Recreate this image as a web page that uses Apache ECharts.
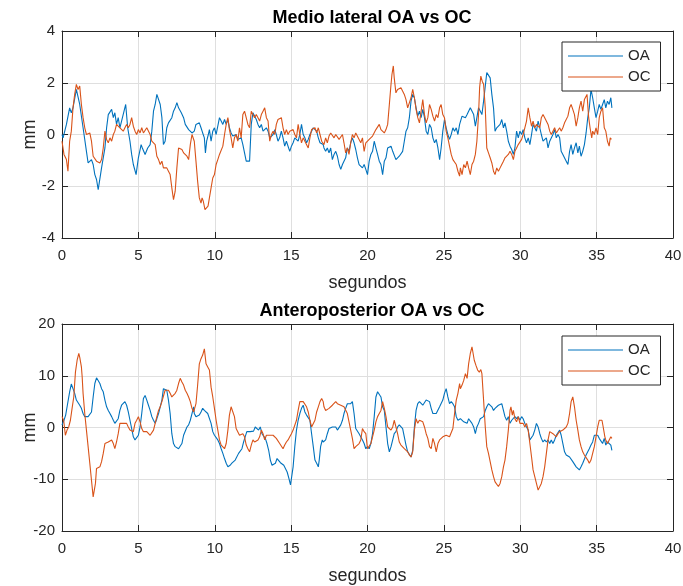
<!DOCTYPE html>
<html>
<head>
<meta charset="utf-8">
<script src="https://cdn.jsdelivr.net/npm/echarts@6/dist/echarts.min.js"></script>
<style>
  html, body { margin: 0; padding: 0; background: #ffffff; }
  #chart { width: 683px; height: 586px; }
</style>
</head>
<body>
<div id="chart"></div>
<script>
// Sway recordings, [time (s), displacement (mm)]
// Medio-lateral, eyes open (OA)
const mlOA = [[0,0],[0.07,-0.13],[0.29,0.39],[0.5,1.03],[0.61,0.84],[0.72,1.03],[0.94,1.74],[1.16,1.16],[1.38,0.26],[1.6,-0.65],[1.71,-1.1],[1.93,-0.97],[2.04,-1.16],[2.15,-1.55],[2.26,-1.74],[2.37,-2.13],[2.59,-1.29],[2.81,-0.52],[2.92,0.26],[3.03,0.77],[3.25,0.97],[3.36,0.65],[3.46,0.84],[3.57,0.39],[3.68,0.65],[3.79,0.26],[3.9,0.52],[4.01,0.45],[4.17,1.16],[4.3,0.26],[4.45,-0.26],[4.56,-0.77],[4.67,-1.16],[4.85,-1.55],[5,-0.9],[5.18,-0.39],[5.26,-0.52],[5.44,-0.77],[5.61,-0.52],[5.77,-0.39],[5.88,0.13],[5.99,0.9],[6.1,1.16],[6.21,1.55],[6.32,1.61],[6.43,1.16],[6.54,0.65],[6.64,-0.39],[6.75,-0.26],[6.86,0.26],[6.97,0.45],[7.08,0.52],[7.19,0.65],[7.3,0.9],[7.41,1.03],[7.52,1.23],[7.63,1.03],[7.81,0.84],[7.96,0.65],[8.07,0.39],[8.29,0.19],[8.51,0.06],[8.55,0],[8.66,0.13],[8.77,0.39],[8.88,0.32],[8.99,0.45],[9.1,0.26],[9.21,0.06],[9.32,-0.13],[9.39,-0.71],[9.47,-0.26],[9.58,0],[9.65,0.19],[9.76,-0.26],[9.87,0.13],[9.98,0.26],[10.09,0],[10.2,0],[10.31,0.65],[10.42,0.52],[10.53,0.39],[10.64,0.58],[10.75,0.39],[10.86,0.58],[10.96,0.26],[11.07,0.06],[11.18,-0.06],[11.29,-0.13],[11.4,0],[11.51,-0.19],[11.62,-0.26],[11.73,-0.13],[11.84,-0.39],[11.95,-0.71],[12.06,-1.03],[12.17,-1.1],[12.28,-1.03],[12.39,0.39],[12.5,0.84],[12.61,0.77],[12.72,0.58],[12.83,0.39],[12.94,0.26],[13.05,0.39],[13.16,0.13],[13.27,0.19],[13.38,0.26],[13.49,0.13],[13.6,-0.13],[13.71,-0.19],[13.82,0],[13.93,0.19],[14.03,0],[14.14,-0.26],[14.25,-0.13],[14.36,0.13],[14.47,-0.13],[14.58,-0.45],[14.69,-0.26],[14.8,-0.32],[14.91,-0.65],[15.02,-0.45],[15.13,-0.32],[15.24,-0.13],[15.35,-0.19],[15.46,-0.26],[15.57,0],[15.68,0.39],[15.79,0],[15.9,-0.13],[16.01,-0.32],[16.12,-0.19],[16.23,0],[16.34,0.13],[16.45,0.26],[16.56,0.26],[16.67,0.13],[16.78,-0.13],[16.89,-0.32],[17,-0.26],[17.1,-0.39],[17.15,-0.52],[17.26,-0.65],[17.37,-0.52],[17.48,-0.71],[17.59,-0.52],[17.7,-0.97],[17.81,-0.77],[17.92,-0.65],[18.03,-0.84],[18.14,-1.16],[18.25,-1.35],[18.36,-1.16],[18.46,-1.03],[18.57,-0.9],[18.68,-0.52],[18.79,-0.65],[18.9,-0.32],[19.01,-0.13],[19.12,-0.32],[19.23,-0.58],[19.34,-0.9],[19.45,-1.16],[19.56,-1.16],[19.67,-1.29],[19.78,-1.16],[19.89,-1.35],[20,-1.55],[20.11,-1.03],[20.22,-0.77],[20.33,-0.65],[20.44,-0.26],[20.55,-0.52],[20.66,-0.77],[20.77,-1.03],[20.88,-1.16],[20.99,-1.55],[21.1,-1.03],[21.21,-0.9],[21.32,-0.52],[21.43,-0.58],[21.54,-0.45],[21.65,-0.65],[21.75,-0.71],[21.86,-0.97],[21.97,-1.03],[22.08,-0.84],[22.19,-0.84],[22.3,-0.65],[22.41,-0.26],[22.52,0.13],[22.63,0.26],[22.74,0.65],[22.85,1.29],[22.96,1.55],[23.07,1.42],[23.18,1.03],[23.29,0.71],[23.4,0.9],[23.51,0.65],[23.62,0.97],[23.73,0.65],[23.84,0.13],[23.95,0],[24.06,0.39],[24.17,0.26],[24.28,-0.13],[24.39,-0.32],[24.5,-0.19],[24.61,-0.52],[24.72,-0.97],[24.82,-0.52],[24.93,0.13],[25.04,0.58],[25.15,0.26],[25.26,0],[25.37,-0.19],[25.48,0],[25.59,0.26],[25.7,0.13],[25.81,0.26],[25.92,0],[26.03,0.39],[26.08,0.39],[26.19,0.71],[26.3,0.77],[26.41,0.65],[26.52,0.77],[26.62,0.71],[26.73,1.03],[26.84,0.97],[26.95,0.77],[27.06,0.32],[27.16,0.65],[27.27,1.03],[27.38,1.1],[27.49,0.77],[27.6,1.29],[27.71,1.87],[27.81,2.39],[27.92,2.45],[28.03,2.19],[28.14,1.55],[28.25,1.03],[28.35,0.13],[28.46,0.26],[28.57,0.19],[28.68,0.39],[28.79,0.58],[28.9,0.26],[29,0.45],[29.11,0.13],[29.22,-0.26],[29.33,-0.45],[29.44,-0.58],[29.55,-0.77],[29.65,-0.52],[29.76,0.13],[29.87,-0.13],[29.98,0.13],[30.09,0],[30.19,0.19],[30.3,-0.13],[30.41,-0.32],[30.52,-0.13],[30.63,-0.39],[30.74,0],[30.84,0.39],[30.95,0.26],[31.06,0.13],[31.17,0.52],[31.28,0.26],[31.38,0],[31.49,-0.26],[31.6,-0.32],[31.71,-0.13],[31.82,-0.52],[31.93,-0.26],[32.03,-0.32],[32.14,0],[32.25,0.19],[32.36,-0.13],[32.47,0],[32.58,-0.13],[32.68,-0.65],[32.79,-0.77],[32.9,-0.71],[33.01,-1.03],[33.12,-1.16],[33.23,-0.65],[33.33,-0.39],[33.44,-0.77],[33.55,-0.52],[33.66,-0.32],[33.77,-0.71],[33.87,-0.45],[33.98,-0.84],[34.09,-0.65],[34.2,-0.39],[34.31,0.06],[34.42,0.65],[34.52,1.03],[34.63,1.74],[34.74,1.42],[34.85,1.03],[34.96,0.65],[35.07,0.9],[35.17,1.16],[35.28,0.97],[35.39,1.16],[35.5,1.35],[35.6,1.03],[35.71,1.29],[35.82,1.16],[35.93,1.42],[36,1.03]];

// Medio-lateral, eyes closed (OC)
const mlOC = [[0,-0.26],[0.13,-0.77],[0.29,-0.97],[0.39,-1.42],[0.5,-0.26],[0.61,0.13],[0.72,1.03],[0.83,1.55],[0.94,1.94],[1.05,1.74],[1.16,1.87],[1.27,1.16],[1.38,0.65],[1.49,0.26],[1.6,0],[1.71,0],[1.82,0.06],[1.93,-0.26],[2.04,-0.84],[2.15,-0.77],[2.26,-1.03],[2.37,-1.1],[2.48,-1.1],[2.59,-0.97],[2.7,-0.52],[2.81,0.13],[2.92,-0.19],[3.03,-0.32],[3.14,-0.13],[3.25,-0.26],[3.36,0],[3.46,0.13],[3.57,0.39],[3.68,0.39],[3.79,0.26],[3.9,0.26],[4.01,0.13],[4.12,0.26],[4.23,0.39],[4.34,0.26],[4.45,0.39],[4.56,0.65],[4.67,0.32],[4.78,0.13],[4.89,0],[5,0.19],[5.11,0.06],[5.22,0.26],[5.33,0.06],[5.44,0],[5.55,0.26],[5.66,0.26],[5.77,0],[5.88,-0.26],[5.99,-0.19],[6.1,-0.39],[6.21,-0.84],[6.32,-0.97],[6.43,-1.16],[6.54,-1.03],[6.64,-1.29],[6.75,-1.35],[6.86,-1.29],[6.97,-1.42],[7.08,-1.55],[7.19,-2.06],[7.3,-2.52],[7.41,-2.19],[7.52,-1.29],[7.63,-0.52],[7.74,-0.45],[7.85,-0.58],[7.96,-0.71],[8.07,-0.65],[8.18,-0.84],[8.29,-0.97],[8.4,-0.39],[8.51,0],[8.55,0],[8.66,-0.26],[8.77,-1.03],[8.88,-1.81],[8.99,-2.45],[9.1,-2.65],[9.17,-2.45],[9.25,-2.58],[9.36,-2.9],[9.47,-2.9],[9.56,-2.77],[9.65,-2.45],[9.76,-2.06],[9.87,-1.68],[9.98,-1.55],[10.09,-1.16],[10.2,-0.97],[10.31,-0.77],[10.42,-0.71],[10.53,-0.45],[10.64,0],[10.75,0.39],[10.86,0.65],[10.96,0.19],[11.07,-0.13],[11.18,-0.52],[11.29,-0.13],[11.4,0],[11.51,-0.26],[11.62,0.26],[11.73,-0.13],[11.84,0.77],[11.95,0.9],[12.06,0.65],[12.17,0.39],[12.28,0.26],[12.39,0.9],[12.5,0.97],[12.61,0.65],[12.72,0.77],[12.83,0.65],[12.94,0.52],[13.05,0.77],[13.16,0.9],[13.27,1.03],[13.38,0.65],[13.49,0.52],[13.6,-0.26],[13.71,0],[13.82,0.13],[13.93,0],[14.03,0.39],[14.14,0.58],[14.25,0.52],[14.36,0.65],[14.47,0.26],[14.58,0],[14.69,0.19],[14.8,0],[14.91,0.13],[15.02,0.06],[15.13,0.19],[15.24,0],[15.35,-0.13],[15.46,0.39],[15.57,0],[15.68,-0.32],[15.79,-0.13],[15.9,-0.26],[16.01,-0.32],[16.12,-0.52],[16.23,-0.13],[16.34,0.19],[16.45,0.26],[16.56,0.26],[16.67,0.06],[16.78,0.26],[16.89,0],[17,-0.26],[17.1,-0.32],[17.15,-0.39],[17.26,-0.13],[17.37,-0.32],[17.48,-0.06],[17.59,0.06],[17.7,0.13],[17.81,-0.13],[17.92,0],[18.03,0],[18.14,-0.19],[18.25,-0.26],[18.36,0],[18.46,-0.32],[18.57,-0.71],[18.68,-0.52],[18.79,-0.77],[18.9,-0.32],[19.01,0],[19.12,-0.13],[19.23,0.06],[19.34,0],[19.45,-0.19],[19.56,-0.32],[19.67,-0.13],[19.78,-0.65],[19.89,-0.32],[20,-0.39],[20.11,-0.19],[20.22,-0.13],[20.33,-0.06],[20.44,0],[20.55,0.19],[20.66,0.26],[20.77,0.39],[20.88,0.19],[20.99,0.13],[21.1,0.06],[21.21,0.19],[21.32,0.39],[21.43,1.16],[21.54,1.94],[21.6,2.32],[21.69,2.65],[21.75,2.19],[21.86,1.61],[21.97,1.74],[22.08,1.68],[22.19,1.81],[22.3,1.74],[22.41,1.55],[22.52,1.35],[22.63,1.03],[22.74,1.1],[22.85,1.42],[22.96,1.74],[23.07,1.42],[23.18,0.97],[23.29,0.65],[23.4,0.45],[23.51,0.9],[23.62,1.35],[23.73,0.77],[23.84,0.45],[23.95,0.65],[24.06,1.16],[24.17,0.97],[24.28,0.71],[24.39,0.52],[24.5,0.77],[24.61,0.65],[24.72,1.03],[24.82,1.16],[24.93,0.77],[25.04,0.65],[25.15,0.13],[25.26,-0.13],[25.37,-0.45],[25.48,-0.77],[25.59,-0.97],[25.7,-0.9],[25.81,-1.16],[25.92,-1.42],[26.03,-1.61],[26.08,-1.29],[26.19,-1.55],[26.3,-1.16],[26.41,-1.29],[26.52,-1.03],[26.62,-1.29],[26.73,-1.55],[26.84,-1.16],[26.95,-1.03],[27.06,-0.77],[27.16,-0.26],[27.27,0.77],[27.34,1.81],[27.42,2.26],[27.51,2.06],[27.6,1.94],[27.71,1.03],[27.81,-0.52],[27.92,-0.71],[28.03,-0.9],[28.14,-1.1],[28.25,-1.42],[28.35,-1.55],[28.46,-1.29],[28.57,-1.42],[28.68,-1.29],[28.79,-1.16],[28.9,-1.03],[29,-0.9],[29.11,-0.97],[29.22,-0.77],[29.33,-0.65],[29.44,-0.77],[29.55,-0.97],[29.65,-0.65],[29.76,-0.52],[29.87,-0.39],[29.98,-0.32],[30.09,-0.19],[30.19,0],[30.3,0.26],[30.41,0.52],[30.52,1.03],[30.63,0.65],[30.74,0.32],[30.84,0.52],[30.95,0.26],[31.06,0.39],[31.17,0.45],[31.28,0.26],[31.38,0.65],[31.49,0.77],[31.6,0.65],[31.71,0.58],[31.82,0.39],[31.93,0.13],[32.03,0],[32.14,0.13],[32.25,0.26],[32.36,0.06],[32.47,0],[32.58,0.26],[32.68,0.13],[32.79,0.26],[32.9,0.45],[33.01,0.52],[33.12,0.71],[33.23,1.03],[33.33,1.16],[33.44,0.97],[33.55,0.77],[33.66,0.32],[33.77,0.65],[33.87,1.03],[33.98,1.29],[34.09,0.9],[34.2,1.35],[34.31,1.42],[34.37,1.55],[34.48,0.65],[34.57,0.26],[34.68,-0.13],[34.74,0.13],[34.85,0],[34.96,0.26],[35.07,0],[35.17,0.65],[35.28,0.9],[35.39,1.03],[35.5,0.26],[35.6,0.13],[35.71,-0.26],[35.82,-0.45],[35.89,-0.13],[35.97,-0.19]];

// Antero-posterior, eyes open (OA)
const apOA = [[0,0.5],[0.13,1.4],[0.24,2.4],[0.35,4.3],[0.5,6.9],[0.61,8.4],[0.72,7.5],[0.83,6.6],[0.94,5.3],[1.05,5],[1.16,4.3],[1.27,3.7],[1.38,2.7],[1.49,2.1],[1.6,2.4],[1.71,2.1],[1.82,2.4],[1.93,3],[2.04,5.9],[2.15,8.5],[2.26,9.6],[2.37,9.8],[2.48,8.5],[2.59,7.5],[2.7,6.9],[2.81,5.3],[2.92,4],[3.03,3.3],[3.14,2.7],[3.25,2.1],[3.36,1.4],[3.46,0.8],[3.57,1.1],[3.68,1.7],[3.79,3.3],[3.9,4.3],[4.01,4.6],[4.12,5],[4.23,4.3],[4.34,3],[4.45,1.4],[4.56,1.1],[4.67,-1.8],[4.78,-2.4],[4.89,-2.1],[5,-1.5],[5.11,0.1],[5.22,2.7],[5.33,5.6],[5.44,6.2],[5.55,5.3],[5.66,4.3],[5.77,3.3],[5.88,2.1],[5.99,1.4],[6.1,0.8],[6.21,1.7],[6.32,2.7],[6.43,4],[6.54,5.3],[6.64,7.5],[6.75,7.8],[6.86,7.2],[6.97,5.3],[7.08,2.7],[7.19,-1.2],[7.3,-3.1],[7.41,-3.7],[7.52,-3.7],[7.63,-4.1],[7.74,-4.4],[7.85,-3.1],[7.96,-1.5],[8.07,-1.8],[8.18,0.1],[8.29,0.5],[8.4,1.4],[8.51,2.7],[8.62,4],[8.66,2.7],[8.77,2.1],[8.88,2.1],[8.99,2.4],[9.1,3],[9.21,3.7],[9.32,3.3],[9.43,3],[9.54,2.7],[9.65,2.4],[9.76,0.8],[9.87,-0.8],[9.98,-1.5],[10.09,-1.8],[10.2,-2.4],[10.31,-3.1],[10.42,-4.1],[10.53,-5],[10.64,-6],[10.75,-6.9],[10.86,-7.6],[10.92,-7.9],[11.01,-7.3],[11.12,-6.9],[11.23,-6.9],[11.34,-6.3],[11.45,-6],[11.56,-5],[11.67,-4.7],[11.78,-4.1],[11.89,-2.8],[11.99,-1.8],[12.1,-0.8],[12.21,-0.6],[12.32,-0.8],[12.43,-0.5],[12.54,-0.7],[12.65,0.1],[12.76,-0.2],[12.87,-0.5],[12.98,0.1],[13.09,-1.2],[13.2,-1.5],[13.31,-2.1],[13.42,-3.1],[13.53,-4.4],[13.64,-6.3],[13.75,-7.3],[13.86,-7.6],[13.97,-6.9],[14.08,-6],[14.19,-6.2],[14.3,-6.8],[14.41,-7.1],[14.52,-7.3],[14.63,-7.6],[14.74,-8.6],[14.85,-9.8],[14.96,-11.1],[15.02,-10.8],[15.13,-7.6],[15.24,-3.7],[15.35,-0.5],[15.46,1.4],[15.57,2.7],[15.68,3.7],[15.79,4.3],[15.9,3],[16.01,2.4],[16.12,2.1],[16.23,1.4],[16.34,-1.2],[16.45,-3.7],[16.56,-6.3],[16.67,-6.9],[16.78,-7.6],[16.84,-6.3],[16.93,-3.7],[17.04,-2.4],[17.1,-2.8],[17.15,-2.8],[17.26,-2.4],[17.37,-1.2],[17.48,-0.2],[17.59,0],[17.7,0.1],[17.81,-0.2],[17.92,0.1],[18.03,-0.5],[18.14,-0.8],[18.25,0.5],[18.36,1.4],[18.46,2.7],[18.57,3.7],[18.68,4.6],[18.79,4.3],[18.9,4.6],[19.01,5],[19.12,2.7],[19.23,-0.2],[19.34,-0.5],[19.45,-1.2],[19.56,-1.5],[19.67,-2.4],[19.78,-3.1],[19.89,-4.1],[20,-3.7],[20.11,-4.1],[20.22,-3.1],[20.33,-1.2],[20.44,2.1],[20.55,5.9],[20.66,6.9],[20.77,7.2],[20.88,5.9],[20.99,4],[21.1,3.3],[21.21,0.1],[21.32,-3.1],[21.43,-4.7],[21.54,-3.7],[21.65,-2.4],[21.75,-1.2],[21.86,-0.8],[21.97,0.1],[22.08,0.5],[22.19,0.8],[22.3,-0.2],[22.41,-1.8],[22.52,-3.4],[22.63,-4.7],[22.74,-5],[22.85,-5.7],[22.96,-4.4],[23.07,0.1],[23.18,3.3],[23.29,4.6],[23.4,5],[23.51,5],[23.62,4.3],[23.73,4.6],[23.84,5.3],[23.95,5.6],[24.06,5],[24.17,3.7],[24.28,2.7],[24.39,2.4],[24.5,2.7],[24.61,2.4],[24.72,4],[24.82,3.7],[24.93,5.3],[25.04,6.6],[25.15,7.5],[25.26,5.9],[25.37,4.6],[25.48,5],[25.59,4.6],[25.7,4],[25.81,2.1],[25.92,1.4],[26.03,1.5],[26.08,1.7],[26.19,1.4],[26.3,1.1],[26.41,1.4],[26.52,0.8],[26.62,1.7],[26.73,1.4],[26.84,0.8],[26.95,0.1],[27.06,-1.2],[27.16,0.1],[27.27,0.8],[27.38,1.7],[27.49,1.4],[27.6,2.1],[27.71,3.3],[27.81,4],[27.92,4.6],[28.03,4.3],[28.14,4],[28.25,3.3],[28.35,3.7],[28.46,4],[28.57,4.3],[28.68,4],[28.79,4.6],[28.9,3.3],[29,2.1],[29.11,1.4],[29.22,2.1],[29.33,0.8],[29.44,1.4],[29.55,1.7],[29.65,2.1],[29.76,1.7],[29.87,2.1],[29.98,1.4],[30.09,2.1],[30.19,1.7],[30.3,0.8],[30.41,0.1],[30.52,-0.5],[30.63,-2.4],[30.74,-2.1],[30.84,-1.5],[30.95,-0.5],[31.06,0.8],[31.17,0.1],[31.28,-1.2],[31.38,-2.1],[31.49,-2.8],[31.6,-2.4],[31.71,-2.8],[31.82,-2.4],[31.93,-3.1],[32.03,-2.4],[32.14,-3.1],[32.25,-2.4],[32.36,-1.5],[32.47,-1.2],[32.58,-0.5],[32.68,-1.5],[32.79,-3.1],[32.9,-4.7],[33.01,-5.3],[33.12,-5],[33.23,-5.7],[33.33,-6],[33.44,-6.6],[33.55,-6.9],[33.66,-7.6],[33.77,-7.6],[33.87,-8.2],[33.98,-7.6],[34.09,-6.9],[34.2,-6.6],[34.31,-5.3],[34.42,-5],[34.52,-4.1],[34.63,-3.4],[34.74,-2.8],[34.85,-1.5],[34.96,-1.8],[35.07,-1.5],[35.17,-2.1],[35.28,-2.4],[35.39,-3.1],[35.5,-2.1],[35.6,-3.4],[35.71,-2.8],[35.82,-3.1],[35.93,-3.4],[36,-4.4]];

// Antero-posterior, eyes closed (OC)
const apOC = [[0,2.1],[0.11,1.4],[0.22,-1.5],[0.33,-0.5],[0.44,0.1],[0.55,1.4],[0.66,3.7],[0.77,5.9],[0.88,10.7],[0.99,13],[1.1,14.3],[1.16,13.6],[1.27,11.7],[1.32,9.8],[1.38,6.6],[1.49,2.7],[1.6,-0.5],[1.71,-3.7],[1.82,-6.9],[1.93,-10.2],[2.04,-13.4],[2.11,-13.4],[2.19,-10.8],[2.26,-7.9],[2.37,-7.9],[2.48,-7.6],[2.59,-6.6],[2.7,-5],[2.81,-3.1],[2.92,-3.1],[3.03,-2.8],[3.14,-2.8],[3.25,-2.4],[3.36,-3.1],[3.46,-4.1],[3.57,-2.8],[3.68,-1.2],[3.79,0.8],[3.9,0.5],[4.01,0.8],[4.12,0.5],[4.23,0.8],[4.34,0.1],[4.45,-0.5],[4.56,-0.8],[4.67,-0.8],[4.78,0.8],[4.89,1.4],[5,2.1],[5.11,1.1],[5.22,-0.2],[5.33,-0.8],[5.44,-0.5],[5.55,-0.8],[5.66,-0.8],[5.77,-1.5],[5.88,-1.8],[5.99,-0.5],[6.1,0.8],[6.21,2.1],[6.32,3.3],[6.43,4],[6.54,5],[6.64,5.3],[6.75,7.2],[6.86,7.5],[6.97,7.2],[7.08,6.6],[7.19,5.9],[7.3,5.9],[7.41,6.6],[7.52,7.2],[7.63,8.5],[7.74,9.5],[7.85,8.8],[7.96,8.2],[8.07,7.2],[8.18,6.6],[8.29,5.9],[8.4,5],[8.51,3.7],[8.62,3],[8.66,3.3],[8.77,4.6],[8.88,8.2],[8.99,12.3],[9.1,13.3],[9.21,14],[9.32,15.2],[9.43,12.3],[9.54,11.7],[9.65,11.1],[9.76,7.8],[9.87,5.9],[9.98,3.7],[10.09,1.4],[10.2,-0.5],[10.31,-2.4],[10.42,-3.4],[10.53,-3.7],[10.64,-4.1],[10.75,-3.1],[10.86,-0.5],[10.96,2.4],[11.07,4],[11.18,4.1],[11.29,2.1],[11.4,-0.2],[11.51,-0.5],[11.62,-1.5],[11.73,-1.2],[11.84,-1.2],[11.95,-1.8],[12.06,-3.4],[12.17,-4.1],[12.28,-4.7],[12.39,-3.4],[12.5,-2.4],[12.61,-2.8],[12.72,-3.1],[12.83,-2.4],[12.94,-1.8],[13.05,-0.5],[13.16,-1.2],[13.27,-2.4],[13.38,-1.5],[13.49,-1.8],[13.6,-1.5],[13.71,-1.2],[13.82,-1.5],[13.93,-1.8],[14.03,-2.1],[14.14,-2.4],[14.25,-3.1],[14.36,-3.4],[14.47,-4.1],[14.58,-3.4],[14.69,-2.8],[14.8,-2.4],[14.91,-1.8],[15.02,-1.2],[15.13,-0.5],[15.24,-0.2],[15.35,1.4],[15.46,3.3],[15.57,5],[15.68,5.3],[15.79,5],[15.9,5],[16.01,4],[16.12,3],[16.23,1.4],[16.34,0.1],[16.45,0.3],[16.56,1.4],[16.67,3],[16.78,4],[16.89,5],[17,5.6],[17.1,5],[17.15,4],[17.26,3.3],[17.37,3.5],[17.48,3.7],[17.59,4],[17.7,4.3],[17.81,4.6],[17.92,5],[18.03,4.6],[18.14,4.5],[18.25,4.3],[18.36,4.3],[18.46,4],[18.57,3.7],[18.68,2.7],[18.79,1.1],[18.9,-0.5],[19.01,-2.1],[19.12,-4.1],[19.23,-3.7],[19.34,-3.4],[19.45,-3.1],[19.56,-2.4],[19.67,-0.2],[19.78,-0.8],[19.89,-1.2],[20,-4.1],[20.11,-4.1],[20.22,-3.1],[20.33,-1.8],[20.44,-0.5],[20.55,1.1],[20.66,2.1],[20.77,2.7],[20.88,3.3],[20.99,5],[21.1,3.7],[21.21,2.1],[21.32,0.1],[21.43,-0.2],[21.54,-0.5],[21.65,0.1],[21.75,1.4],[21.86,0.1],[21.97,-1.2],[22.08,-2.8],[22.19,-3.4],[22.3,-3.6],[22.41,-4.1],[22.52,-4.4],[22.63,-4.7],[22.74,-5.3],[22.85,-5.7],[22.96,-4.7],[23.07,-0.5],[23.18,1.7],[23.29,0.8],[23.4,1.4],[23.51,1.7],[23.62,1.1],[23.73,0.1],[23.84,-1.2],[23.95,-2.1],[24.06,-3.7],[24.17,-4.1],[24.28,-2.1],[24.39,-3.1],[24.5,-4.7],[24.61,-3.1],[24.72,-2.4],[24.82,-2.1],[24.93,-1.8],[25.04,-1.8],[25.15,-1.5],[25.26,-1.2],[25.37,-1.8],[25.48,-1.5],[25.59,-0.2],[25.7,2.7],[25.81,5.3],[25.92,6.6],[26.03,8.5],[26.08,7.5],[26.19,8.2],[26.3,9.1],[26.41,10.4],[26.52,9.5],[26.62,12.3],[26.73,14.3],[26.84,15.6],[26.9,15.6],[26.99,13],[27.1,12],[27.21,11.1],[27.32,10.7],[27.42,11.2],[27.49,10.4],[27.6,5.3],[27.71,0.1],[27.81,-3.7],[27.92,-5],[28.03,-5.3],[28.14,-8.2],[28.25,-9.5],[28.35,-10.5],[28.46,-10.8],[28.57,-11.4],[28.68,-10.8],[28.79,-9.5],[28.9,-7.6],[29,-6.3],[29.11,-3.7],[29.22,-0.5],[29.33,3.3],[29.39,4],[29.48,2.4],[29.55,3.3],[29.65,1.7],[29.76,1.1],[29.87,2.1],[29.98,0.8],[30.09,1.1],[30.19,0.8],[30.3,0.1],[30.41,0.8],[30.52,-0.5],[30.63,-3.1],[30.74,-5.7],[30.84,-8.2],[30.95,-9.5],[31.06,-10.8],[31.17,-12.1],[31.28,-11.8],[31.38,-10.8],[31.49,-9.5],[31.6,-7.6],[31.71,-5],[31.82,-2.4],[31.93,-0.8],[32.03,-0.5],[32.14,-1.2],[32.25,-1.5],[32.36,-1.8],[32.47,-1.2],[32.58,-0.8],[32.68,-0.5],[32.79,-0.5],[32.9,-0.2],[33.01,0.1],[33.12,0.8],[33.23,2.7],[33.33,5],[33.44,5.9],[33.55,4],[33.66,1.4],[33.77,-0.5],[33.87,-2.4],[33.98,-3.7],[34.09,-4.7],[34.2,-5.3],[34.31,-5],[34.42,-6.3],[34.52,-6.9],[34.63,-6.3],[34.74,-5],[34.85,-3.7],[34.96,-1.8],[35.07,0.1],[35.17,1.4],[35.28,1.6],[35.35,1.4],[35.43,0.1],[35.54,-1.8],[35.6,-2.4],[35.71,-3.1],[35.82,-3.4],[35.93,-1.8],[36,-2.1]];

const titles = ['Medio lateral OA vs OC', 'Anteroposterior OA vs OC'];
const seriesNames = ['OA', 'OC'];
const xLabel = 'segundos';
const yLabel = 'mm';
const xRange = { min: 0, max: 40, step: 5 };
const yRanges = [{ min: -4, max: 4, step: 2 }, { min: -20, max: 20, step: 10 }];

const COLORS = ['#0072BD', '#D95319'];
const INK = '#262626';
const FONT = "'Liberation Sans', Arial, Helvetica, sans-serif";

const grids = [
  { left: 62, width: 611, top: 31, height: 207, outerBoundsMode: 'none', containLabel: false },
  { left: 62, width: 611, top: 324, height: 207, outerBoundsMode: 'none', containLabel: false }
];

const xAxes = [];
const yAxes = [];
grids.forEach((g, i) => {
  // bottom axis with labels and grid
  xAxes.push({
    type: 'value', gridIndex: i, min: xRange.min, max: xRange.max, interval: xRange.step,
    position: 'bottom',
    name: xLabel, nameLocation: 'middle', nameGap: 36, nameMoveOverlap: false,
    nameTextStyle: { color: INK, fontFamily: FONT, fontSize: 18 },
    axisLine: { show: true, onZero: false, lineStyle: { color: INK, width: 1 } },
    axisTick: { show: true, inside: true, length: 6, lineStyle: { color: INK } },
    axisLabel: { color: INK, fontFamily: FONT, fontSize: 15, margin: 10 },
    splitLine: { show: true, lineStyle: { color: '#dfdfdf', width: 1 } }
  });
  // top edge of the box
  xAxes.push({
    type: 'value', gridIndex: i, min: xRange.min, max: xRange.max, interval: xRange.step,
    position: 'top',
    axisLine: { show: true, onZero: false, lineStyle: { color: INK, width: 1 } },
    axisTick: { show: true, inside: true, length: 6, lineStyle: { color: INK } },
    axisLabel: { show: false }, splitLine: { show: false }
  });
  const yr = yRanges[i];
  yAxes.push({
    type: 'value', gridIndex: i, min: yr.min, max: yr.max, interval: yr.step,
    position: 'left',
    name: yLabel, nameLocation: 'middle', nameGap: 23, nameRotate: 90, nameMoveOverlap: false,
    nameTextStyle: { color: INK, fontFamily: FONT, fontSize: 18 },
    axisLine: { show: true, onZero: false, lineStyle: { color: INK, width: 1 } },
    axisTick: { show: true, inside: true, length: 6, lineStyle: { color: INK } },
    axisLabel: { color: INK, fontFamily: FONT, fontSize: 15, margin: 7 },
    splitLine: { show: true, lineStyle: { color: '#dfdfdf', width: 1 } }
  });
  // right edge of the box
  yAxes.push({
    type: 'value', gridIndex: i, min: yr.min, max: yr.max, interval: yr.step,
    position: 'right',
    axisLine: { show: true, onZero: false, lineStyle: { color: INK, width: 1 } },
    axisTick: { show: true, inside: true, length: 6, lineStyle: { color: INK } },
    axisLabel: { show: false }, splitLine: { show: false }
  });
});

const traces = [[mlOA, mlOC], [apOA, apOC]];
const series = [];
traces.forEach((pair, i) => {
  pair.forEach((data, k) => {
    series.push({
      name: seriesNames[k], type: 'line', data: data,
      xAxisIndex: i * 2, yAxisIndex: i * 2,
      showSymbol: false, symbol: 'none', smooth: false,
      lineStyle: { color: COLORS[k], width: 1.1 },
      itemStyle: { color: COLORS[k] },
      z: 3 + k
    });
  });
});

const legendTops = [42, 336];
const legends = legendTops.map(t => ({
  data: seriesNames, orient: 'vertical', left: 562, top: t,
  icon: 'rect', itemWidth: 55, itemHeight: 1.2, itemGap: 5,
  backgroundColor: '#ffffff', borderColor: INK, borderWidth: 1,
  padding: [6, 10, 6, 6],
  textStyle: { color: INK, fontFamily: FONT, fontSize: 15, lineHeight: 16 },
  selectedMode: false
}));

const titleTops = [4, 297];
const titleOpts = titles.map((t, i) => ({
  text: t, left: 367, top: titleTops[i], textAlign: 'center',
  textStyle: { color: '#000000', fontFamily: FONT, fontSize: 18, fontWeight: 'bold' }
}));

const chart = echarts.init(document.getElementById('chart'), null, { renderer: 'canvas' });
chart.setOption({
  animation: false,
  backgroundColor: '#ffffff',
  title: titleOpts,
  legend: legends,
  grid: grids,
  xAxis: xAxes,
  yAxis: yAxes,
  series: series
});
</script>
</body>
</html>
